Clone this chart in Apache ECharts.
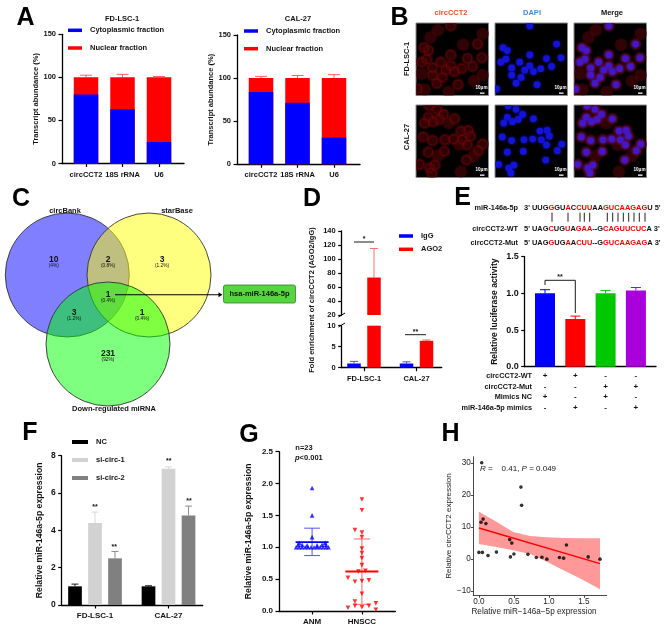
<!DOCTYPE html>
<html><head><meta charset="utf-8">
<style>html,body{margin:0;padding:0;background:#fff}#c{width:669px;height:626px}</style>
<script src="https://cdn.jsdelivr.net/npm/echarts@6/dist/echarts.min.js"></script>
</head><body><div id="c"></div>
<script>
// ---------- data ----------
const rnaCats = ['circCCT2', '18S rRNA', 'U6'];
const cytoFd = [80, 63, 25], nucFd = [20, 37, 75];
const cytoFdErr = [87, 65, 26], nucFdErr = [102.5, 103.5, 101];
const cytoCal = [84, 71.5, 31], nucCal = [16, 28.5, 69];
const cytoCalErr = [88, 75, 32], nucCalErr = [102, 103, 104];

const nucleiRow1 = [[48,4],[11,34],[17,38],[48,44],[34,54],[15,50],[8,54],[23,62],[48,59],[71,49],[63,63],[53,67],[41,65],[23,72],[36,75],[29,83],[58,85],[78,60],[91,48],[85,29],[2,91]];
const cellsRow1 = [[20,20],[45,95],[80,80],[92,15],[30,10],[65,30],[92,72],[8,70],[12,92]];
const nucleiRow2 = [[18,1],[29,6],[38,13],[32,20],[24,23],[17,17],[12,25],[53,19],[72,35],[62,36],[75,43],[10,44],[23,49],[40,48],[52,47],[64,48],[71,55],[92,54],[17,65],[39,64],[86,63],[70,76],[5,82],[26,83],[19,87],[22,94]];
const cellsRow2 = [[45,25],[60,55],[30,70],[80,70],[62,92]];

const vennSets = ['circBank', 'starBase', 'Down-regulated miRNA'];
const vennCounts = ['10', '2', '3', '1', '3', '1', '231'];
const vennPercents = ['(4%)', '(0.8%)', '(1.2%)', '(0.4%)', '(1.2%)', '(0.4%)', '(92%)'];

const cellLines = ['FD-LSC-1', 'CAL-27'];
const igg = [1, 1], ago2 = [73.5, 6.4];
const iggErr = [1.5, 1.4], ago2Err = [115, 6.6];

const lucValues = [1.0, 0.65, 1.0, 1.04], lucErr = [1.05, 0.69, 1.04, 1.08];
const lucSigns = ['+\n-\n+\n-', '+\n-\n-\n+', '-\n+\n+\n-', '-\n+\n-\n+'];
const lucRows = ['circCCT2-WT', 'circCCT2-Mut', 'Mimics NC', 'miR-146a-5p mimics'];
const lucColors = ['#0000ff', '#ff0000', '#00c800', '#aa00dc'];

const ncValues = [1, 1], si1Values = [4.4, 7.3], si2Values = [2.5, 4.8];
const ncErr = [1.12, 1.03], si1Err = [4.98, 7.4], si2Err = [2.87, 5.3];

const groupNames = ['ANM', 'HNSCC'];
const anmPoints = [[1,1.93],[1,1.5],[1,1.16],[0.68,1.0],[0.74,1.0],[0.8,1.0],[0.86,1.0],[0.92,1.0],[0.98,1.0],[1.04,1.0],[1.1,1.0],[1.16,1.0],[1.22,1.0],[1.28,1.0],[1.33,1.0],[0.72,1.04],[0.8,1.04],[0.9,1.03],[1.1,1.03],[1.2,1.04],[1.28,1.04],[0.74,1.07],[1.26,1.07]];
const hnsccPoints = [[2,1.75],[2,1.58],[1.86,1.27],[2,1.23],[2,1.16],[2,0.98],[2,0.91],[2,0.83],[2,0.72],[1.93,0.62],[2.07,0.63],[1.72,0.52],[1.86,0.46],[2,0.47],[2.14,0.48],[2,0.27],[1.86,0.15],[1.72,0.05],[1.86,0.08],[2,0.06],[2.14,0.08],[2.28,0.12],[2.28,0.02]];
const anmStats = {mean: 1.08, low: 0.87, high: 1.3};
const hnsccStats = {mean: 0.62, low: 0.105, high: 1.13};

const corrPoints = [[0.04,30.1],[0.6,22.5],[0.61,16.8],[0.06,12.5],[0.03,11.5],[0.1,11.1],[0.44,6.1],[0.47,5],[1.25,4.4],[0,2.1],[0.05,2.1],[0.13,1.1],[0.25,2.2],[0.45,0.7],[0.5,1.6],[0.7,1.5],[0.82,0.5],[0.9,0.6],[0.97,0],[1.15,0.5],[1.21,0.3],[1.56,0.7],[1.73,0]];
const fitLine = [[0,9.7],[1.73,-1.4]];
const bandX = [0,0.25,0.49,0.73,0.97,1.2,1.44,1.73];
const bandUpper = [14.8,11.7,8.5,7.2,6.8,6.6,6.5,6.5];
const bandLower = [4.7,3.8,2.8,1.6,-0.8,-3.4,-6,-9.4];

// ---------- helpers ----------
const FF = '"Liberation Sans", Arial, sans-serif';
const grid = [], xAxis = [], yAxis = [], series = [], graphic = [], legend = [];
const axStyle = (w, c) => ({show: true, onZero: false, lineStyle: {color: c || '#000', width: w || 1.3}});
const tickStyle = (w, c) => ({show: true, length: 3.5, lineStyle: {color: c || '#000', width: w || 1.2}});

function addPanel(l, t, r, b, xOpt, yOpt, gridExtra) {
  const i = grid.length;
  grid.push(Object.assign({left: l, top: t, width: r - l, height: b - t, containLabel: false}, gridExtra || {}));
  xAxis.push(Object.assign({gridIndex: i, type: 'value', splitLine: {show: false}, axisLine: axStyle(), axisTick: tickStyle(),
    axisLabel: {}}, xOpt));
  yAxis.push(Object.assign({gridIndex: i, type: 'value', splitLine: {show: false}, axisLine: axStyle(), axisTick: tickStyle(),
    axisLabel: {}, nameLocation: 'middle', nameRotate: 90}, yOpt));
  return i;
}
function xCats(cats, min, max, size) {
  const vals = cats.map((_, i) => i);
  return {min, max, axisTick: Object.assign(tickStyle(), {customValues: vals}),
    axisLabel: {customValues: vals, formatter: v => cats[Math.round(v)], fontFamily: FF, fontWeight: 'bold', fontSize: size || 7.5, color: '#111', margin: 7, hideOverlap: false}};
}
function yVal(min, max, interval, size, digits, name, gap) {
  return {min, max, interval,
    axisLabel: {fontFamily: FF, fontWeight: 'bold', fontSize: size, color: '#111', margin: 6,
      formatter: v => digits ? v.toFixed(digits) : String(v)},
    name: name || '', nameGap: gap || 0, nameTextStyle: {fontFamily: FF, fontWeight: 'bold', fontSize: size, color: '#111'}};
}
function bars(g, name, pts, color, w) {
  series.push({type: 'bar', name, xAxisIndex: g, yAxisIndex: g, data: pts, barWidth: w, barGap: '-100%',
    itemStyle: {color}, silent: true, animation: false});
}
function whisk(g, rows, color, cap, lw, bothCaps) {
  series.push({type: 'custom', xAxisIndex: g, yAxisIndex: g, silent: true, animation: false, clip: false,
    data: rows, encode: {x: 0, y: [1, 2]},
    renderItem(p, api) {
      const a = api.coord([api.value(0), api.value(1)]), b = api.coord([api.value(0), api.value(2)]);
      const st = {stroke: color, lineWidth: lw, fill: null};
      const kids = [];
      if (a[1] !== b[1]) kids.push({type: 'line', shape: {x1: a[0], y1: a[1], x2: b[0], y2: b[1]}, style: st});
      kids.push({type: 'line', shape: {x1: b[0] - cap / 2, y1: b[1], x2: b[0] + cap / 2, y2: b[1]}, style: st});
      if (bothCaps) kids.push({type: 'line', shape: {x1: a[0] - cap / 2, y1: a[1], x2: a[0] + cap / 2, y2: a[1]}, style: st});
      return {type: 'group', children: kids};
    }});
}
function T(x, y, text, size, opt) {
  opt = opt || {};
  graphic.push({type: 'text', x, y, z: 100, rotation: opt.rot || 0, silent: true,
    style: {text, fontFamily: FF, fontSize: size, fontWeight: opt.weight || 'bold', fontStyle: opt.italic ? 'italic' : 'normal',
      fill: opt.fill || '#111', align: opt.align || 'center', verticalAlign: 'middle', rich: opt.rich}});
}
function L(x1, y1, x2, y2, w, c) {
  graphic.push({type: 'line', z: 100, silent: true, shape: {x1, y1, x2, y2}, style: {stroke: c || '#000', lineWidth: w || 1}});
}
function addLegend(left, top, names, gap, iw) {
  legend.push({left, top, orient: 'vertical', padding: 0, itemGap: gap, itemWidth: iw || 14, itemHeight: 3.5, icon: 'rect', data: names, selectedMode: false,
    textStyle: {fontFamily: FF, fontWeight: 'bold', fontSize: 7.5, color: '#111', lineHeight: 10, padding: [0, 0, 0, 3]}});
}
const xy = arr => arr.map((v, i) => [i, v]);
const errRows = (base, top) => base.map((v, i) => [i, v, top[i]]);

// ---------- panel A ----------
function panelA(l, t, r, b, cyto, nuc, cytoErr, nucErr, min, max) {
  const g = addPanel(l, t, r, b, xCats(rnaCats, min, max), yVal(0, 150, 50, 7.5, 0, 'Transcript abundance (%)', 21));
  bars(g, 'Nuclear fraction', nuc.map((v, i) => [i, v + cyto[i]]), '#ff0000', 24.5);
  bars(g, 'Cytoplasmic fraction', xy(cyto), '#0000ff', 24.5);
  whisk(g, errRows(cyto, cytoErr), '#1a10c8', 12, 0.9);
  whisk(g, nuc.map((v, i) => [i, v + cyto[i], nucErr[i]]), '#ff5050', 12, 0.9);
}
panelA(62, 34.3, 184, 163.5, cytoFd, nucFd, cytoFdErr, nucFdErr, -0.658, 2.685);
panelA(237, 35, 360, 164.3, cytoCal, nucCal, cytoCalErr, nucCalErr, -0.658, 2.712);
addLegend(68, 25.3, ['Cytoplasmic fraction', 'Nuclear fraction'], 7.7);
addLegend(244, 26, ['Cytoplasmic fraction', 'Nuclear fraction'], 7.7);
T(122, 19, 'FD-LSC-1', 7.5);
T(298, 19, 'CAL-27', 7.5);

// ---------- panel B ----------
function micro(l, t, nuclei, cells, showCells, showNuclei, merged) {
  const g = addPanel(l, t, l + 72.5, t + 72.5,
    {show: false, min: 0, max: 100}, {show: false, min: 0, max: 100, inverse: true},
    {show: true, backgroundColor: '#000', borderColor: '#8a8a8a', borderWidth: 1});
  const spots = (pts, r, fill, ring) => series.push({type: 'custom', xAxisIndex: g, yAxisIndex: g, silent: true, animation: false, clip: true, data: pts,
    renderItem(p, api) {
      const c = api.coord([api.value(0), api.value(1)]);
      return {type: 'circle', shape: {cx: c[0], cy: c[1], r},
        style: ring ? {fill: 'none', stroke: fill, lineWidth: 1.2, shadowBlur: 2, shadowColor: fill} : {fill, shadowBlur: 3, shadowColor: fill}};
    }});
  if (showCells) {
    spots(nuclei.concat(cells), 6.2, 'rgba(72,6,10,0.55)');
    spots(nuclei, 4.3, 'rgba(120,14,16,0.4)', true);
  }
  if (showNuclei) spots(nuclei, 3.4, merged ? '#4418c4' : '#1414d8');
  T(l + 65.5, t + 64.7, '10μm', 4.6, {fill: '#fff'});
  graphic.push({type: 'rect', z: 100, silent: true, shape: {x: l + 64, y: t + 69.5, width: 4.5, height: 1.3}, style: {fill: '#fff'}});
}
[[23, nucleiRow1, cellsRow1], [105, nucleiRow2, cellsRow2]].forEach(([t, n, c]) => {
  micro(416, t, n, c, true, false, false);
  micro(495, t, n, c, false, true, false);
  micro(574, t, n, c, true, true, true);
});
T(451, 13, 'circCCT2', 7.5, {fill: '#ef5030'});
T(532, 13, 'DAPI', 7.5, {fill: '#3a8ee0'});
T(612, 13, 'Merge', 7.5);
T(407, 59, cellLines[0], 7.5, {rot: Math.PI / 2});
T(407, 137, cellLines[1], 7.5, {rot: Math.PI / 2});

// ---------- panel C ----------
const vennCenters = [[67.3, 75], [149, 75], [108, 144]];
const vennFills = ['rgba(0,0,255,0.5)', 'rgba(255,255,0,0.5)', 'rgba(0,255,0,0.5)'];
const vg = addPanel(0, 200, 220, 410, {show: false, min: 0, max: 220}, {show: false, min: 0, max: 210, inverse: true});
vennCenters.forEach((c, i) => series.push({type: 'scatter', xAxisIndex: vg, yAxisIndex: vg, data: [c], symbolSize: 124, silent: true, animation: false, clip: false,
  itemStyle: {color: vennFills[i], borderColor: '#333', borderWidth: 0.9, opacity: 1}}));
T(65, 211, vennSets[0], 7.5);
T(177, 211, vennSets[1], 7.5);
T(114, 408.5, vennSets[2], 7.5);
[[53.7,259.5],[108,259.5],[162,259.5],[108,294.7],[74,313],[142,313],[108,354]].forEach((p, i) => {
  T(p[0], p[1], vennCounts[i], 8.5);
  T(p[0], p[1] + 5.8, vennPercents[i], 4.8, {weight: 'normal'});
});
L(115, 294.7, 219, 294.7, 1.1);
graphic.push({type: 'polygon', z: 100, silent: true, shape: {points: [[218.5, 292.2], [222.5, 294.7], [218.5, 297.2]]}, style: {fill: '#000'}});
graphic.push({type: 'rect', z: 99, silent: true, shape: {x: 223.5, y: 285, width: 72, height: 18, r: 2}, style: {fill: '#55d63f', stroke: '#3c7a30', lineWidth: 0.8}});
T(259.5, 294, 'hsa-miR-146a-5p', 7.5);

// ---------- panel D ----------
const dStep = 20 / 52.5, dPos = (i, s) => i + (s ? 0.5 : -0.5) * dStep;
const dMin = -0.425, dMax = 1.48;
const dLow = addPanel(341.7, 325.7, 441.7, 367.7, xCats(cellLines, dMin, dMax), yVal(0, 10, 5, 7.5, 0));
const dUp = addPanel(341.7, 231, 441.7, 315, {show: false, min: dMin, max: dMax},
  Object.assign(yVal(20, 140, 20, 7.5, 0), {axisLine: axStyle()}));
[dLow, dUp].forEach(g => {
  bars(g, 'IgG', igg.map((v, i) => [dPos(i, 0), v]), '#0000ff', 13.5);
  bars(g, 'AGO2', ago2.map((v, i) => [dPos(i, 1), v]), '#ff0000', 13.5);
});
whisk(dLow, igg.map((v, i) => [dPos(i, 0), v, iggErr[i]]), '#3a3af0', 8, 0.9);
whisk(dLow, [[dPos(1, 1), ago2[1], ago2Err[1]]], '#ff5050', 8, 0.9);
whisk(dUp, [[dPos(0, 1), ago2[0], ago2Err[0]]], '#ff6060', 8, 0.9);
addLegend(399, 231, ['IgG', 'AGO2'], 3.3);
T(311.7, 300, 'Fold enrichment of circCCT2 (AGO2/IgG)', 7.5, {rot: Math.PI / 2});
L(338.5, 317, 345, 313, 1); L(338.5, 327, 345, 323, 1);
L(354, 242, 374, 242, 0.9); T(364, 239, '*', 7);
L(405, 334.7, 426, 334.7, 0.9); T(415.5, 332, '**', 7);

// ---------- panel E ----------
const eMin = -0.67, eMax = 3.663;
const eG = addPanel(524.7, 256.7, 656, 366.7, {min: eMin, max: eMax,
  axisTick: Object.assign(tickStyle(), {customValues: [0, 1, 2, 3], show: false}),
  axisLabel: {customValues: [0, 1, 2, 3], formatter: v => lucSigns[Math.round(v)], fontFamily: FF, fontWeight: 'bold', fontSize: 8, lineHeight: 10.6, color: '#111', margin: 4}},
  yVal(0, 1.5, 0.5, 9, 1, 'Relative luciferase activity', 26));
yAxis[eG].nameTextStyle.fontSize = 8.5;
lucValues.forEach((v, i) => {
  bars(eG, 'luc' + i, [[i, v]], lucColors[i], 20);
  whisk(eG, [[i, v, lucErr[i]]], lucColors[i], 10, 1);
});
lucRows.forEach((r, i) => T(532, 376 + i * 10.6, r, 7.3, {align: 'right'}));
L(545, 285, 545, 280.3, 0.9); L(545, 280.3, 575.3, 280.3, 0.9); L(575.3, 280.3, 575.3, 313, 0.9);
T(560, 277.5, '**', 7);
const SEQ = 7.45;
const seqRich = {k: {fontFamily: FF, fontWeight: 'bold', fontSize: SEQ, fill: '#111', color: '#111'}, r: {fontFamily: FF, fontWeight: 'bold', fontSize: SEQ, fill: '#f00', color: '#f00'}};
const seqRows = [
  ['miR-146a-5p', "{k|3' UUG}{r|G}{k|GU}{r|A}{k|C}{r|CUU}{k|AA}{r|GUCAAGAG}{k|U 5'}", 208],
  ['circCCT2-WT', "{k|5' UAG}{r|C}{k|UG}{r|U}{k|A}{r|GAA}{k|--G}{r|CAGUUCUC}{k|A 3'}", 228.5],
  ['circCCT2-Mut', "{k|5' UAG}{r|G}{k|UG}{r|A}{k|A}{r|CUU}{k|--G}{r|GUCAAGAG}{k|A 3'}", 242.5]
];
seqRows.forEach(([n, s, y]) => {
  T(518, y, n, 7.3, {align: 'right'});
  T(524, y, s, SEQ, {align: 'left', rich: seqRich});
});
[552, 568, 580, 584.3, 589.7, 607.3, 612.7, 618, 623.3, 628.7, 634, 639.3, 645].forEach(x => L(x, 212.7, x, 221.7, 1, '#222'));

// ---------- panel F ----------
const fStep = 20 / 73.5;
const fG = addPanel(61.7, 455.7, 202.7, 605, xCats(cellLines, -0.453, 1.465, 8), yVal(0, 8, 2, 8.5, 0, 'Relative miR-146a-5p expression', 18));
yAxis[fG].nameTextStyle.fontSize = 8.7;
const fSets = [['NC', ncValues, ncErr, '#000000', -1], ['si-circ-1', si1Values, si1Err, '#d2d2d2', 0], ['si-circ-2', si2Values, si2Err, '#808080', 1]];
fSets.forEach(([n, v, e, c, s]) => {
  const pos = i => i + s * fStep;
  bars(fG, n, v.map((y, i) => [pos(i), y]), c, 13.7);
  whisk(fG, v.map((y, i) => [pos(i), y, e[i]]), c, 7, 0.9);
});
legend.push({left: 72, top: 437, orient: 'vertical', padding: 0, itemGap: 8, itemWidth: 16, itemHeight: 4, icon: 'rect', data: fSets.map(d => d[0]), selectedMode: false,
  textStyle: {fontFamily: FF, fontWeight: 'bold', fontSize: 7.5, color: '#111', lineHeight: 10, padding: [0, 0, 0, 3]}});
[[95, 506.7], [114.3, 546.7], [168.7, 461], [189, 501]].forEach(p => T(p[0], p[1], '**', 7));

// ---------- panel G ----------
const gG = addPanel(279, 451.7, 395.3, 611, Object.assign({}, (() => {
  const o = xCats(groupNames, 0.336, 2.67, 8);
  const vals = [1, 2];
  o.axisTick.customValues = vals;
  o.axisLabel.customValues = vals;
  o.axisLabel.formatter = v => groupNames[Math.round(v) - 1];
  return o;
})()), yVal(0, 2.5, 0.5, 8, 1, 'Relative miR-146a-5p expression', 26));
yAxis[gG].nameTextStyle.fontSize = 8.7;
function scatterG(pts, color, rot) {
  series.push({type: 'scatter', xAxisIndex: gG, yAxisIndex: gG, data: pts, symbol: 'triangle', symbolRotate: rot, symbolSize: 4.6, silent: true, animation: false, itemStyle: {color}});
}
scatterG(anmPoints, '#0000ff', 0);
scatterG(hnsccPoints, '#ff0000', 180);
whisk(gG, [[1, anmStats.low, anmStats.high]], '#4040ff', 16, 0.9, true);
whisk(gG, [[1, anmStats.mean, anmStats.mean]], '#0000ff', 33, 1.8);
whisk(gG, [[2, hnsccStats.low, hnsccStats.high]], '#ff5050', 16, 0.9, true);
whisk(gG, [[2, hnsccStats.mean, hnsccStats.mean]], '#ff0000', 33, 1.8);
T(304, 447.7, 'n=23', 7.5);
T(295, 458, '{i|p}{b|<0.001}', 7.5, {align: 'left', rich: {
  i: {fontFamily: FF, fontWeight: 'bold', fontStyle: 'italic', fontSize: 7.5, color: '#111'},
  b: {fontFamily: FF, fontWeight: 'bold', fontSize: 7.5, color: '#111'}}});

// ---------- panel H ----------
const hTickX = [0, 0.5, 1, 1.5], hTickY = [-10, 0, 10, 20, 30];
const hLabel = {fontFamily: FF, fontSize: 8.2, color: '#222', margin: 2.5};
const hG = addPanel(473.3, 456.7, 606.7, 595.3,
  {min: -0.08, max: 1.825, axisLine: axStyle(0.9, '#333'),
    axisTick: Object.assign(tickStyle(0.9, '#333'), {length: 2.5, customValues: hTickX}),
    axisLabel: Object.assign({customValues: hTickX, formatter: v => v.toFixed(1)}, hLabel)},
  {min: -11.3, max: 32, axisLine: axStyle(0.9, '#333'),
    axisTick: Object.assign(tickStyle(0.9, '#333'), {length: 2.5, customValues: hTickY}),
    axisLabel: Object.assign({customValues: hTickY, formatter: v => String(v).replace('-', '\u2212')}, hLabel),
    name: 'Relative circCCT2 expression', nameGap: 18, nameTextStyle: {fontFamily: FF, fontSize: 8, color: '#222'}});
series.push({type: 'scatter', xAxisIndex: hG, yAxisIndex: hG, data: corrPoints, symbolSize: 3.6, silent: true, animation: false, itemStyle: {color: '#000'}});
series.push({type: 'custom', xAxisIndex: hG, yAxisIndex: hG, silent: true, animation: false, data: [[bandX[0], bandUpper[0]]],
  renderItem(p, api) {
    const pts = bandX.map((x, i) => api.coord([x, bandUpper[i]]))
      .concat(bandX.map((x, i) => api.coord([x, bandLower[i]])).reverse());
    return {type: 'polygon', shape: {points: pts}, style: {fill: 'rgba(255,0,0,0.4)'}};
  }});
series.push({type: 'line', xAxisIndex: hG, yAxisIndex: hG, data: fitLine, symbol: 'none', silent: true, animation: false, lineStyle: {color: '#ff0000', width: 1.5}});
T(534, 611.5, 'Relative miR\u2212146a\u22125p expression', 8.2, {weight: 'normal', fill: '#222'});
T(480, 469, '{i|R} {n|=    0.41,} {i|P} {n|= 0.049}', 8, {align: 'left', weight: 'normal', rich: {
  i: {fontFamily: FF, fontStyle: 'italic', fontSize: 8, color: '#222'},
  n: {fontFamily: FF, fontSize: 8, color: '#222'}}});

// ---------- panel letters ----------
[['A', 25.5, 18], ['B', 399.5, 18], ['C', 21, 199], ['D', 312, 199], ['E', 462.5, 198.5], ['F', 30, 433.5], ['G', 249, 435], ['H', 450.5, 434]]
  .forEach(([s, x, y]) => T(x, y, s, 25, {fill: '#000'}));

const chart = echarts.init(document.getElementById('c'), null, {renderer: 'canvas'});
chart.setOption({backgroundColor: '#fff', animation: false, grid, xAxis, yAxis, series, legend, graphic: {elements: graphic}});
</script></body></html>
